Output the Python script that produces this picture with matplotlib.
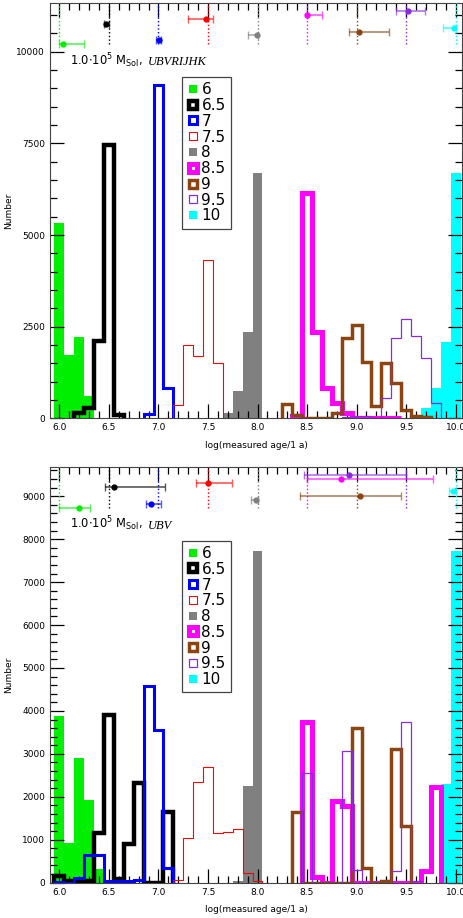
import numpy as np
import matplotlib
matplotlib.use('agg')
import matplotlib.pyplot as plt
from matplotlib.lines import Line2D
from matplotlib.ticker import MultipleLocator

# true ages and styles
ages = ['6', '6.5', '7', '7.5', '8', '8.5', '9', '9.5', '10']
true_age = [6.0, 6.5, 7.0, 7.5, 8.0, 8.5, 9.0, 9.5, 10.0]
colors = ['#00ee00', '#000000', '#0000ff', '#ff0000', '#808080',
          '#ff00ff', '#8b4513', '#8a2be2', '#00ffff']
filled = [True, False, False, False, True, False, False, False, True]
lw = [0, 3.2, 2.2, 0.8, 0, 3.6, 2.5, 0.9, 0]

# histograms, bin width 0.1, first bin centre + counts
top_start = [6.0, 6.2, 6.9, 7.1, 7.7, 8.4, 8.3, 8.9, 9.7]
top_counts = [
    [5330, 1720, 2230, 600],
    [140, 270, 2120, 7450, 90],
    [110, 9090, 830],
    [20, 360, 2000, 1700, 4330, 1500],
    [150, 750, 2360, 6680],
    [60, 6140, 2360, 820, 410, 150, 10, 0, 0, 0, 15],
    [390, 100, 0, 0, 0, 145, 2180, 2540, 1540, 345, 1500, 955, 225, 50, 30],
    [40, 50, 50, 10, 545, 2180, 2700, 2250, 1650, 410],
    [290, 835, 2090, 6680],
]
bot_start = [6.0, 6.0, 6.0, 7.2, 7.8, 8.5, 8.4, 8.5, 9.9]
bot_counts = [
    [3890, 920, 2900, 1930, 310],
    [160, 40, 30, 30, 1150, 3910, 80, 895, 2320, 0, 0, 1640],
    [20, 0, 100, 645, 645, 50, 30, 30, 60, 4590, 3560, 335],
    [60, 1035, 2355, 2700, 1150, 1190, 1245, 233, 30],
    [30, 2240, 7730],
    [3750, 140, 0, 1900, 1790, 0, 0, 0, 0, 0, 0, 0, 280, 2225],
    [1655, 0, 0, 0, 0, 0, 3600, 335, 0, 30, 3110, 1320],
    [2565, 0, 0, 0, 3055, 295, 0, 0, 0, 270, 3750, 30],
    [2290, 7720],
]

# measured age: point, lower, upper, height of the bar
top_pt = [6.034, 6.47, 7.007, 7.48, 7.99, 8.50, 9.025, 9.52, 9.98]
top_lo = [6.0, 6.455, 6.98, 7.30, 7.90, 8.50, 8.92, 9.40, 9.87]
top_hi = [6.25, 6.50, 7.03, 7.55, 8.0, 8.65, 9.33, 9.69, 10.0]
top_y = [10203, 10768, 10321, 10885, 10449, 10994, 10530, 11103, 10659]
bot_pt = [6.2, 6.55, 6.92, 7.5, 7.98, 8.84, 9.03, 8.92, 9.97]
bot_lo = [6.0, 6.46, 6.87, 7.375, 7.93, 8.5, 8.43, 8.47, 9.93]
bot_hi = [6.31, 7.07, 7.03, 7.74, 8.0, 9.77, 9.45, 9.50, 10.0]
bot_y = [8727, 9208, 8821, 9301, 8921, 9403, 9014, 9497, 9114]


def panel(ax, start, counts, pt, lo, hi, yy, ytop, major, minor, band):
    # filled histograms first, outlines on top
    order = [i for i in range(9) if filled[i]] + [i for i in range(9) if not filled[i]]
    for i in order:
        c = np.array(counts[i])
        edges = start[i] - 0.05 + 0.1 * np.arange(len(c) + 1)
        if filled[i]:
            ax.stairs(c, edges, fill=True, color=colors[i], zorder=1)
        else:
            ax.stairs(c, edges, color=colors[i], lw=lw[i], zorder=2)
    ymin = min(yy)
    for i in range(9):
        ax.vlines(true_age[i], ymin, ytop, colors=colors[i], linestyles=':', lw=1, zorder=3)
        eb = ax.errorbar(pt[i], yy[i], xerr=[[pt[i] - lo[i]], [hi[i] - pt[i]]], fmt='o',
                         color=colors[i], ms=3.5, capsize=3, elinewidth=1.2, zorder=4)
        for part in eb[1] + eb[2]:
            part.set_alpha(0.65)
    ax.set_xlim(5.905, 10.065)
    ax.set_ylim(0, ytop)
    ax.xaxis.set_major_locator(MultipleLocator(0.5))
    ax.xaxis.set_minor_locator(MultipleLocator(0.1))
    ax.yaxis.set_major_locator(MultipleLocator(major))
    ax.yaxis.set_minor_locator(MultipleLocator(minor))
    ax.tick_params(which='both', direction='in', top=True, right=True, labelsize=6.5)
    ax.tick_params(which='major', length=10, width=0.9)
    ax.tick_params(which='minor', length=5, width=0.9)
    ax.set_xlabel('log(measured age/1 a)', fontsize=6.5, labelpad=6)
    ax.set_ylabel('Number', fontsize=6.5)
    ax.yaxis.set_label_coords(-0.09, 0.5)
    for s in ax.spines.values():
        s.set_color('#444444')
    ax.text(0.0485, 0.851, r'1.0$\cdot$10$^5$ M$_{\mathrm{Sol}}$,', transform=ax.transAxes,
            fontsize=8.3, va='baseline')
    ax.text(0.238, 0.851, band, transform=ax.transAxes, fontsize=9, va='baseline',
            family='Liberation Serif', style='italic')
    handles = []
    for i in range(9):
        if filled[i]:
            h = Line2D([], [], ls='none', marker='s', ms=6, mfc=colors[i], mec=colors[i], mew=0)
        else:
            h = Line2D([], [], ls='none', marker='s', ms=6, mfc='white', mec=colors[i],
                       mew=max(lw[i], 0.8))
        handles.append(h)
    leg = ax.legend(handles, ages, loc='upper left', bbox_to_anchor=(0.321, 0.822),
                    fontsize=11, fancybox=False, framealpha=1, edgecolor='#444444',
                    handlelength=0.7, handletextpad=0.2, labelspacing=0.05,
                    borderpad=0.35, borderaxespad=0)
    leg.get_frame().set_linewidth(0.9)


fig = plt.figure(figsize=(4.63, 9.18), dpi=100)
ax1 = fig.add_axes([0.108, 0.5443, 0.890, 0.4524])
ax2 = fig.add_axes([0.108, 0.0385, 0.890, 0.4532])
panel(ax1, top_start, top_counts, top_pt, top_lo, top_hi, top_y, 11330, 2500, 500, 'UBVRIJHK')
panel(ax2, bot_start, bot_counts, bot_pt, bot_lo, bot_hi, bot_y, 9690, 1000, 200, 'UBV')

fig.savefig('out.png', dpi=100)
